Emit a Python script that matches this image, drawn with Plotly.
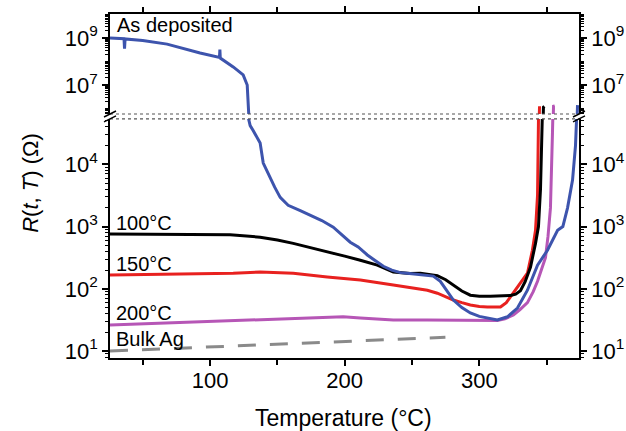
import plotly.graph_objects as go

# ---------------- data ----------------
# Temperature (°C) and resistance (Ohm)
blue_T = [25.7, 31.6, 36.1, 36.5, 36.9, 50.0, 68.1, 92.6, 107.0, 107.3, 107.6, 117.2, 124.6, 127.6,
          128.3, 128.6, 129.8, 132.0, 134.5, 137.2, 139.5, 142.0, 144.7, 148.0, 152.1, 158.0, 167.0,
          175.0, 183.0, 191.5, 198.0, 204.1, 210.0, 216.8, 222.0, 228.7, 235.0, 241.3, 248.0, 254.0,
          260.0, 265.8, 271.0, 275.0, 280.7, 287.0, 293.3, 300.0, 305.9, 313.4, 320.9, 328.3, 335.7,
          343.2, 350.6, 358.1, 362.0, 365.5, 369.2, 371.4, 372.2, 372.9]
blue_R = [1.0e9, 9.5e8, 9.3e8, 3.5e8, 9.1e8, 7.9e8, 5.5e8, 2.3e8, 1.5e8, 3.2e8, 1.4e8, 5.9e7, 2.7e7, 1.0e7,
          1.6e6, 5.4e4, 4.2e4, 3.5e4, 2.8e4, 2.2e4, 1.05e4, 8.0e3, 6.2e3, 4.3e3, 2.95e3, 2.2e3, 1.8e3,
          1.5e3, 1.25e3, 980, 720, 560, 470, 350, 290, 230, 200, 182, 176, 170,
          168, 160, 132, 100, 66, 50, 41, 36, 34, 31.6, 35.5, 49, 95,
          240, 417, 870, 1000, 2000, 5600, 2.0e4, 5.4e4, 1.4e6]

black_T = [25.7, 60.0, 90.0, 114.9, 137.2, 150.0, 161.8, 175.0, 187.0, 200.0, 211.6, 224.2, 236.1,
           248.7, 256.2, 262.0, 268.8, 275.0, 280.7, 287.0, 293.3, 300.0, 308.2, 316.0, 323.1, 327.0,
           330.5, 334.0, 338.0, 341.7, 343.9, 345.4, 346.9, 347.6, 348.3]
black_R = [760, 755, 750, 740, 676, 610, 537, 460, 389, 335, 288, 240, 186,
           176, 178, 172, 162, 140, 115, 92, 79, 76, 76, 76, 78, 82,
           93, 130, 224, 537, 1000, 4000, 3.2e4, 1.15e6, 1.25e6]

red_T = [25.7, 60.0, 90.0, 117.2, 137.2, 161.8, 187.0, 211.6, 236.1, 250.0, 261.4, 268.8, 275.0,
         280.7, 287.0, 293.3, 300.0, 305.9, 315.7, 320.0, 323.1, 327.0, 330.5, 335.7, 339.4, 341.7,
         343.2, 343.9, 344.7]
red_R = [166, 170, 175, 178, 186, 178, 155, 138, 115, 104, 95, 85, 74,
         66, 60, 55, 52, 51, 51, 60, 74, 98, 123, 178, 417, 871,
         3162, 3.2e4, 1.26e6]

mag_T = [25.7, 60.0, 92.6, 137.2, 167.0, 198.9, 211.6, 236.1, 261.4, 290.0, 305.9, 313.4, 319.0,
         325.3, 330.0, 335.7, 340.0, 343.2, 346.0, 349.1, 351.0, 352.8, 354.3, 355.1, 356.0]
mag_R = [26.3, 28.0, 29.5, 32.4, 33.9, 35.5, 33.9, 31.6, 31.6, 31.6, 31.6, 30.9, 33.0,
         38, 46, 60, 90, 132, 200, 316, 700, 1995, 3.2e4, 1.26e6, 1.3e6]

bulk_T = [25.7, 274.8]
bulk_R = [10.0, 16.6]

# tick labels
x_tickvals = [100, 200, 300]
x_ticktext = ["100", "200", "300"]
x_minorvals = [50, 150, 250, 350]
ylo_tickvals = [10, 100, 1000, 10000]
ylo_ticktext = ["10<sup>1</sup>", "10<sup>2</sup>", "10<sup>3</sup>", "10<sup>4</sup>"]
yhi_tickvals = [1e7, 1e9]
yhi_ticktext = ["10<sup>7</sup>", "10<sup>9</sup>"]

labels = ["As deposited", "100°C", "150°C", "200°C", "Bulk Ag"]

# ---------------- styling ----------------
FONT = "Arial, Liberation Sans, sans-serif"
C_BLUE = "#3d54ad"
C_BLACK = "#000000"
C_RED = "#e8211f"
C_MAG = "#b656b6"
C_GRAY = "#8a8a8a"

LO_DOM = [0.0, 0.695]
HI_DOM = [0.7093, 1.0]
LO_RANGE = [0.888, 4.73]
HI_RANGE = [5.77, 10.02]
X_RANGE = [25.7, 374.0]


def minor_vals(k0, k1, with_decades=False):
    ms = range(1, 10) if with_decades else range(2, 10)
    return [m * 10 ** k for k in range(k0, k1) for m in ms]


fig = go.Figure()

series = [
    (bulk_T, bulk_R, C_GRAY, "18px,14px", 3),
    (mag_T, mag_R, C_MAG, "solid", 3),
    (red_T, red_R, C_RED, "solid", 3),
    (black_T, black_R, C_BLACK, "solid", 3),
    (blue_T, blue_R, C_BLUE, "solid", 3),
]
for xa, ya in (("x", "y"), ("x2", "y2")):
    for T, R, c, d, w in series:
        fig.add_trace(go.Scatter(x=T, y=R, mode="lines", xaxis=xa, yaxis=ya,
                                 line=dict(color=c, width=w, dash=d),
                                 showlegend=False, hoverinfo="skip"))
# carriers for right-side axes
fig.add_trace(go.Scatter(x=[None], y=[None], xaxis="x", yaxis="y3", showlegend=False, hoverinfo="skip"))
fig.add_trace(go.Scatter(x=[None], y=[None], xaxis="x2", yaxis="y4", showlegend=False, hoverinfo="skip"))

axis_common = dict(showline=True, linecolor="black", linewidth=1.5, ticks="outside",
                   tickcolor="black", tickwidth=1.5, ticklen=6, showgrid=False, zeroline=False,
                   automargin=False,
                   tickfont=dict(family=FONT, size=22, color="black"))

x_minor = dict(tickmode="array", tickvals=x_minorvals, ticks="outside", ticklen=5,
               tickwidth=1.5, tickcolor="black", showgrid=False)
lo_minor = dict(tickmode="array", tickvals=minor_vals(0, 5), ticks="outside",
                ticklen=3, tickwidth=1, tickcolor="black", showgrid=False)
hi_minor = dict(tickmode="array", tickvals=minor_vals(5, 11, True), ticks="outside",
                ticklen=3, tickwidth=1, tickcolor="black", showgrid=False)

fig.update_layout(
    width=626, height=431,
    margin=dict(l=110, r=47, t=14, b=73, autoexpand=False),
    paper_bgcolor="white", plot_bgcolor="white",
    font=dict(family=FONT, color="black"),
    xaxis=dict(domain=[0, 1], anchor="y", range=X_RANGE, tickmode="array",
               tickvals=x_tickvals, ticktext=x_ticktext, minor=x_minor,
               ticklabelstandoff=-4, **axis_common),
    xaxis2=dict(domain=[0, 1], anchor="y2", range=X_RANGE, matches="x", side="top",
                tickmode="array", tickvals=x_tickvals, showticklabels=False, minor=x_minor,
                **axis_common),
    yaxis=dict(domain=LO_DOM, anchor="x", type="log", range=LO_RANGE, tickmode="array",
               tickvals=ylo_tickvals, ticktext=ylo_ticktext, minor=lo_minor, **axis_common),
    yaxis2=dict(domain=HI_DOM, anchor="x2", type="log", range=HI_RANGE, tickmode="array",
                tickvals=yhi_tickvals, ticktext=yhi_ticktext, minor=hi_minor, **axis_common),
    yaxis3=dict(domain=LO_DOM, anchor="x", overlaying="y", side="right", type="log",
                range=LO_RANGE, tickmode="array", tickvals=ylo_tickvals, ticktext=ylo_ticktext,
                minor=lo_minor, **axis_common),
    yaxis4=dict(domain=HI_DOM, anchor="x2", overlaying="y2", side="right", type="log",
                range=HI_RANGE, tickmode="array", tickvals=yhi_tickvals, ticktext=yhi_ticktext,
                minor=hi_minor, **axis_common),
)

# break lines (dotted) and break marks
shapes = []
for yb in (LO_DOM[1], HI_DOM[0]):
    shapes.append(dict(type="line", xref="paper", yref="paper", x0=0, x1=1, y0=yb, y1=yb,
                       line=dict(color="#555555", width=1.2, dash="dot")))
    for xb in (0, 1):
        shapes.append(dict(type="line", xref="paper", yref="paper", xsizemode="pixel",
                           ysizemode="pixel", xanchor=xb, yanchor=yb, x0=-6, x1=6, y0=-3, y1=3,
                           line=dict(color="black", width=1.5)))
fig.update_layout(shapes=shapes)

ann_font = dict(family=FONT, size=20, color="black")
fig.add_annotation(x=29.5, y=9.55, xref="x2", yref="y2", text=labels[0], showarrow=False,
                   xanchor="left", yanchor="middle", font=ann_font)
for txt, ly in zip(labels[1:], [3.06, 2.40, 1.61, 1.19]):
    fig.add_annotation(x=29.0, y=ly, xref="x", yref="y", text=txt, showarrow=False,
                       xanchor="left", yanchor="middle", font=ann_font)
fig.add_annotation(x=-0.17, y=0.51, xref="paper", yref="paper",
                   text="<i>R</i>(<i>t</i>, <i>T</i>) (Ω)", textangle=-90, showarrow=False,
                   xanchor="center", yanchor="middle", font=dict(family=FONT, size=22, color="black"))
fig.add_annotation(x=0.497, y=-0.174, xref="paper", yref="paper", text="Temperature (°C)",
                   showarrow=False, xanchor="center", yanchor="middle",
                   font=dict(family=FONT, size=23, color="black"))

fig.write_html("out.html", config={"displayModeBar": False},
               post_script="document.body.style.margin='0px';")
